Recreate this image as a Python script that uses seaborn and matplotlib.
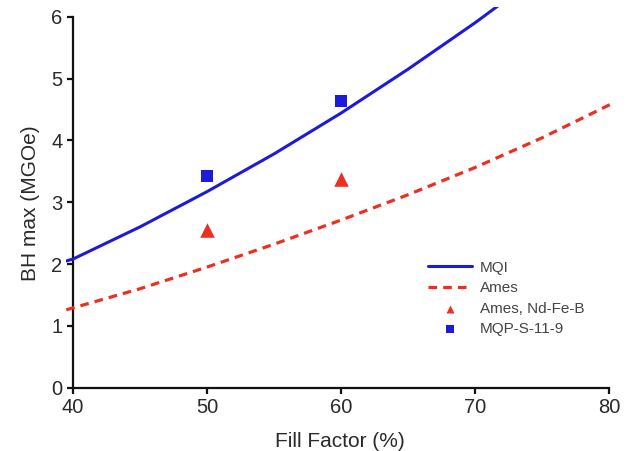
import numpy as np
import pandas as pd
import matplotlib
matplotlib.use("Agg")
import matplotlib.pyplot as plt
import seaborn as sns

# --- data ---
mqi_ff = [39.5, 40, 45, 50, 55, 60, 65, 70, 72]
mqi_bh = [2.05, 2.08, 2.60, 3.17, 3.78, 4.44, 5.15, 5.90, 6.22]

ames_ff = [39.5, 40, 45, 50, 55, 60, 65, 70, 75, 80, 80.3]
ames_bh = [1.26, 1.29, 1.60, 1.95, 2.32, 2.71, 3.12, 3.56, 4.04, 4.57, 4.60]

ndfeb_ff = [50, 60]
ndfeb_bh = [2.55, 3.38]

mqp_ff = [50, 60]
mqp_bh = [3.43, 4.63]

xticks = [40, 50, 60, 70, 80]
yticks = [0, 1, 2, 3, 4, 5, 6]

BLUE = "#1c1cd8"
RED = "#ee2f20"
TXT = "#2a2a2a"

sns.set_style("ticks")
plt.rcParams["font.family"] = ["Liberation Sans", "DejaVu Sans"]

fig = plt.figure(figsize=(6.26, 4.51), dpi=100)
ax = fig.add_axes([0.1059, 0.1404, 0.8733, 0.8432])

mqi = pd.DataFrame({"ff": mqi_ff, "bh": mqi_bh})
ames = pd.DataFrame({"ff": ames_ff, "bh": ames_bh})
nd = pd.DataFrame({"ff": ndfeb_ff, "bh": ndfeb_bh})
mq = pd.DataFrame({"ff": mqp_ff, "bh": mqp_bh})

sns.lineplot(data=mqi, x="ff", y="bh", ax=ax, color=BLUE, lw=2.2,
             label="MQI", sort=True)
sns.lineplot(data=ames, x="ff", y="bh", ax=ax, color=RED, lw=2.3,
             label="Ames", dashes=False)
ax.lines[-1].set_dashes((2.7, 1.9))
sns.scatterplot(data=nd, x="ff", y="bh", ax=ax, color=RED, marker="^",
                s=110, linewidth=0, label="Ames, Nd-Fe-B")
sns.scatterplot(data=mq, x="ff", y="bh", ax=ax, color=BLUE, marker="s",
                s=85, linewidth=0, label="MQP-S-11-9")

ax.set_xlim(39.5, 80.3)
ax.set_ylim(0, 6.15)
ax.set_xticks(xticks)
ax.set_yticks(yticks)
ax.spines["left"].set_position(("data", 40))
ax.spines["left"].set_bounds(0, 6)
ax.spines["bottom"].set_bounds(40, 80)
for s in ["top", "right"]:
    ax.spines[s].set_visible(False)
for s in ["left", "bottom"]:
    ax.spines[s].set_linewidth(1.6)
    ax.spines[s].set_color("#111111")
    ax.spines[s].set_zorder(1)
ax.tick_params(axis="both", length=4.5, width=1.6, color="#111111",
               labelsize=14.5, labelcolor=TXT, pad=3)

ax.set_xlabel("Fill Factor (%)", fontsize=15, color=TXT, labelpad=11)
ax.set_ylabel("BH max (MGOe)", fontsize=15, color=TXT)
ax.yaxis.set_label_coords(-0.049, 0.484)

leg = ax.legend(loc="upper left", bbox_to_anchor=(0.651, 0.35),
                frameon=False, fontsize=11, handlelength=2.85,
                markerscale=0.55, labelspacing=0.42, handletextpad=0.55,
                borderaxespad=0)
for t in leg.get_texts():
    t.set_color("#444444")

fig.savefig("out.png", dpi=100)
